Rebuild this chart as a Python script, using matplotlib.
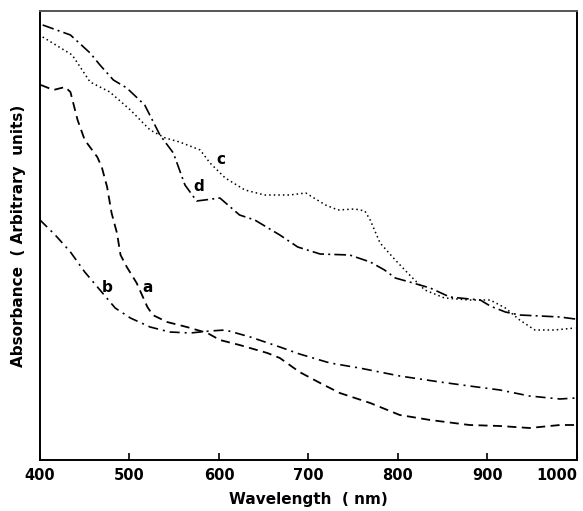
import matplotlib
matplotlib.use("Agg")
import matplotlib.pyplot as plt

# curve a (dashed)
wl_a = [401, 415, 428, 434, 442, 450, 464, 469, 475, 480, 486, 490, 497, 508, 520, 526,
        542, 564, 587, 601, 623, 654, 668, 690, 713, 735, 769, 802, 836, 880, 914, 947, 981, 998]
abs_a = [375, 370, 373, 368, 340, 320, 303, 293, 273, 247, 227, 205, 193, 177, 153, 145,
         138, 133, 127, 120, 115, 107, 102, 88, 77, 67, 57, 45, 40, 35, 34, 32, 35, 35]

# curve b (dash-dot)
wl_b = [400, 417, 434, 450, 467, 484, 501, 523, 545, 568, 590, 607, 635, 668, 690, 724,
        757, 802, 847, 880, 914, 947, 981, 998]
abs_b = [240, 225, 208, 188, 170, 152, 142, 133, 128, 127, 129, 130, 123, 113, 106, 97,
         92, 84, 78, 74, 70, 64, 61, 62]

# curve c (dotted)
wl_c = [403, 436, 456, 478, 501, 523, 540, 556, 579, 590, 607, 629, 651, 679, 697, 719,
        733, 752, 763, 769, 780, 797, 813, 830, 852, 880, 903, 920, 936, 953, 975, 998]
abs_c = [423, 405, 378, 368, 350, 330, 322, 318, 310, 297, 282, 270, 265, 265, 267, 255,
         250, 251, 249, 240, 217, 200, 185, 170, 162, 160, 160, 152, 140, 130, 130, 132]

# curve d (long dash-dot)
wl_d = [403, 434, 456, 467, 482, 497, 517, 534, 549, 562, 575, 584, 601, 623, 640, 668,
        688, 713, 746, 769, 785, 797, 813, 836, 858, 880, 892, 903, 920, 936, 959, 981, 998]
abs_d = [435, 425, 407, 395, 380, 372, 355, 325, 307, 275, 259, 260, 262, 245, 240, 225,
         213, 206, 205, 198, 190, 182, 178, 172, 163, 161, 160, 154, 148, 145, 144, 143, 141]

x_ticks = [400, 500, 600, 700, 800, 900, 1000]

fig = plt.figure(figsize=(5.83, 5.11), dpi=100)
ax = fig.add_axes([0.0686, 0.0998, 0.921, 0.8787])

ax.plot(wl_a, abs_a, color="black", lw=1.3, linestyle=(0, (5, 3)))
ax.plot(wl_b, abs_b, color="black", lw=1.2, linestyle=(0, (6, 3, 1.2, 3)))
ax.plot(wl_c, abs_c, color="black", lw=1.1, linestyle=(0, (1, 2)))
ax.plot(wl_d, abs_d, color="black", lw=1.2, linestyle=(0, (7, 2.5, 1.2, 2.5)))

for lbl, x, y in [("a", 520, 172), ("b", 475, 172), ("c", 602, 300), ("d", 577, 273)]:
    ax.text(x, y, lbl, fontsize=11, fontweight="bold", ha="center", va="center")

ax.set_xlim(400, 1000)
ax.set_ylim(0, 449)
ax.set_xticks(x_ticks)
ax.set_xticklabels([str(t) for t in x_ticks], fontsize=10.5, fontweight="bold")
ax.get_xticklabels()[-1].set_horizontalalignment("right")
ax.set_yticks([])
ax.tick_params(axis="x", direction="in", length=5, width=1.2, pad=6)
for s in ax.spines.values():
    s.set_linewidth(1.4)
ax.spines["top"].set_color("#555555")

ax.set_xlabel("Wavelength  ( nm)", fontsize=11, fontweight="bold", labelpad=6)
ax.set_ylabel("Absorbance  ( Arbitrary  units)", fontsize=11, fontweight="bold", labelpad=10)

fig.savefig("out.png", dpi=100)
